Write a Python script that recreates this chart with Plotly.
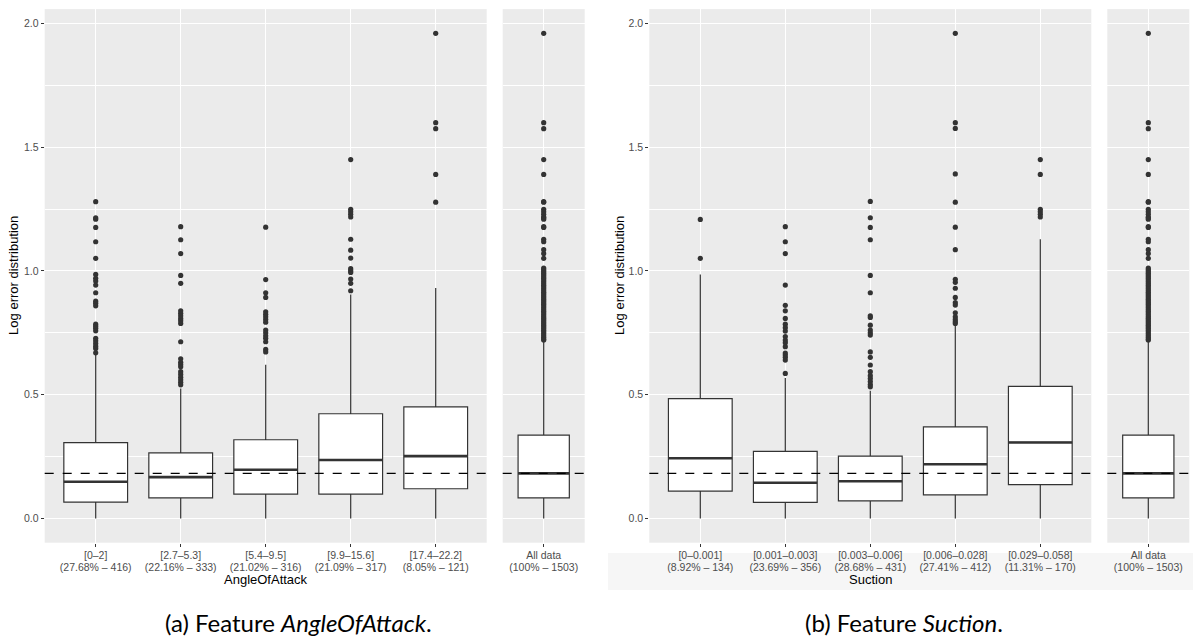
import plotly.graph_objects as go

W, H = 1193, 639

# ---------------- data ----------------
y_tickvals = [0.0, 0.5, 1.0, 1.5, 2.0]
y_ticktext = ["0.0", "0.5", "1.0", "1.5", "2.0"]
y_minor = [0.25, 0.75, 1.25, 1.75]
y_range = [-0.098, 2.058]
overall_median = 0.182

aoa_ranges = ["[0–2]", "[2.7–5.3]", "[5.4–9.5]", "[9.9–15.6]", "[17.4–22.2]"]
aoa_counts = ["(27.68% – 416)", "(22.16% – 333)", "(21.02% – 316)", "(21.09% – 317)",
              "(8.05% – 121)"]
aoa_q1 = [0.066, 0.083, 0.098, 0.098, 0.120]
aoa_median = [0.148, 0.167, 0.197, 0.236, 0.252]
aoa_q3 = [0.306, 0.265, 0.318, 0.423, 0.451]
aoa_lower = [0.0, 0.0, 0.0, 0.0, 0.0]
aoa_upper = [0.660, 0.525, 0.621, 0.905, 0.931]
aoa_out_1 = [1.280, 1.215, 1.209, 1.176, 1.118, 1.051, 0.986, 0.970, 0.959, 0.943,
             0.912, 0.878, 0.869, 0.859, 0.785, 0.777, 0.768, 0.758, 0.728, 0.718,
             0.707, 0.696, 0.687, 0.669]
aoa_out_2 = [1.179, 1.126, 1.070, 0.982, 0.950, 0.839, 0.829, 0.819, 0.808, 0.799,
             0.788, 0.714, 0.645, 0.631, 0.622, 0.613, 0.593, 0.582, 0.570, 0.560,
             0.550, 0.540]
aoa_out_3 = [1.177, 0.965, 0.912, 0.893, 0.835, 0.825, 0.815, 0.804, 0.793, 0.761,
             0.750, 0.738, 0.728, 0.714, 0.683, 0.673]
aoa_out_4 = [1.450, 1.249, 1.239, 1.229, 1.218, 1.128, 1.084, 1.052, 1.009, 1.001,
             0.994, 0.967, 0.950, 0.920]
aoa_out_5 = [1.960, 1.599, 1.575, 1.390, 1.278]
aoa_outliers = [aoa_out_1, aoa_out_2, aoa_out_3, aoa_out_4, aoa_out_5]

suc_ranges = ["[0–0.001]", "[0.001–0.003]", "[0.003–0.006]", "[0.006–0.028]",
              "[0.029–0.058]"]
suc_counts = ["(8.92% – 134)", "(23.69% – 356)", "(28.68% – 431)", "(27.41% – 412)",
              "(11.31% – 170)"]
suc_q1 = [0.110, 0.065, 0.071, 0.095, 0.137]
suc_median = [0.243, 0.144, 0.150, 0.219, 0.307]
suc_q3 = [0.484, 0.271, 0.252, 0.370, 0.534]
suc_lower = [0.0, 0.0, 0.0, 0.0, 0.0]
suc_upper = [0.986, 0.567, 0.516, 0.779, 1.128]
suc_out_1 = [1.208, 1.051]
suc_out_2 = [1.179, 1.118, 1.070, 0.943, 0.861, 0.839, 0.808, 0.785, 0.771, 0.757,
             0.735, 0.721, 0.710, 0.694, 0.668, 0.660, 0.651, 0.640, 0.586]
suc_out_3 = [1.281, 1.215, 1.176, 1.126, 0.982, 0.912, 0.819, 0.812, 0.781, 0.761,
             0.750, 0.741, 0.673, 0.651, 0.620, 0.593, 0.577, 0.565, 0.553, 0.541,
             0.532]
suc_out_4 = [1.960, 1.599, 1.576, 1.392, 1.278, 1.177, 1.086, 0.966, 0.954, 0.930,
             0.893, 0.872, 0.862, 0.831, 0.815, 0.804, 0.795, 0.788]
suc_out_5 = [1.450, 1.390, 1.249, 1.239, 1.229, 1.218]
suc_outliers = [suc_out_1, suc_out_2, suc_out_3, suc_out_4, suc_out_5]

all_ranges = ["All data"]
all_counts = ["(100% – 1503)"]
all_q1 = [0.083]
all_median = [0.182]
all_q3 = [0.337]
all_lower = [0.0]
all_upper = [0.716]
all_out = [1.960, 1.599, 1.575, 1.450, 1.390, 1.280, 1.278, 1.249, 1.239, 1.229,
           1.218, 1.215, 1.209, 1.179, 1.176, 1.128, 1.118, 1.086, 1.070, 1.051,
           1.012, 1.005, 0.998, 0.991, 0.984, 0.977, 0.970, 0.963, 0.956, 0.949,
           0.942, 0.935, 0.928, 0.921, 0.914, 0.907, 0.900, 0.893, 0.886, 0.879,
           0.872, 0.865, 0.858, 0.851, 0.844, 0.837, 0.830, 0.823, 0.816, 0.809,
           0.802, 0.795, 0.788, 0.781, 0.774, 0.767, 0.760, 0.753, 0.746, 0.739,
           0.732, 0.725, 0.721]

x_titles = ["AngleOfAttack", "Suction"]
y_title = "Log error distribution"
captions = ["(a) Feature <i>AngleOfAttack</i>.", "(b) Feature <i>Suction</i>."]

# ---------------- style / layout constants ----------------
BOX_W = 0.75
INK = "#333333"
TICK_GRAY = "#4D4D4D"
SANS = "Liberation Sans, Arial, Helvetica, sans-serif"
TICK_FONT = dict(family=SANS, size=10.5, color=TICK_GRAY)
TITLE_FONT = dict(family=SANS, size=13, color="black")
CAP_FONT = dict(family="Lato, Open Sans, sans-serif", size=24, color="black")
LINE2_STANDOFF = 17

def px_x(p):
    return p / W

PANEL_TOP, PANEL_BOT = 9.1, 542.7
y_dom = [(H - PANEL_BOT) / H, (H - PANEL_TOP) / H]
charts = [
    dict(main=(44.7, 486.7), side=(502.7, 584.7), ytitle_x=14.0, caption_x=298),
    dict(main=(649.3, 1091.3), side=(1107.3, 1189.3), ytitle_x=620.0, caption_x=904),
]

fig = go.Figure()
layout = dict(width=W, height=H, margin=dict(l=0, r=0, t=0, b=0), autosize=False,
              paper_bgcolor="white", plot_bgcolor="#EBEBEB", showlegend=False,
              shapes=[], annotations=[])

kx = lambda n: "xaxis" if n == 1 else f"xaxis{n}"
ky = lambda n: "yaxis" if n == 1 else f"yaxis{n}"
rx = lambda n: "x" if n == 1 else f"x{n}"
ry = lambda n: "y" if n == 1 else f"y{n}"


def add_boxes(xa, ya, q1, med, q3, lo, up, outs):
    xref, yref = rx(xa), ry(ya)
    for i in range(len(q1)):
        pos = i + 1
        fig.add_trace(go.Box(x=[pos], q1=[q1[i]], median=[med[i]], q3=[q3[i]],
                             lowerfence=[lo[i]], upperfence=[up[i]],
                             width=BOX_W, whiskerwidth=0, boxpoints=False,
                             fillcolor="white", line=dict(color=INK, width=1.2),
                             xaxis=xref, yaxis=yref, hoverinfo="skip"))
        fig.add_trace(go.Scatter(x=[pos - BOX_W / 2, pos + BOX_W / 2], y=[med[i], med[i]],
                                 mode="lines", line=dict(color=INK, width=2.6),
                                 xaxis=xref, yaxis=yref, hoverinfo="skip"))
        fig.add_trace(go.Scatter(x=[pos] * len(outs[i]), y=outs[i], mode="markers",
                                 marker=dict(color=INK, size=5.2),
                                 xaxis=xref, yaxis=yref, hoverinfo="skip"))


def axis_common():
    return dict(showline=False, zeroline=False, showgrid=True, gridcolor="white",
                gridwidth=1.1, ticks="outside", ticklen=3, tickwidth=1, tickcolor=INK,
                tickfont=TICK_FONT, fixedrange=True)


datasets = [
    (aoa_ranges, aoa_counts, aoa_q1, aoa_median, aoa_q3, aoa_lower, aoa_upper, aoa_outliers),
    (suc_ranges, suc_counts, suc_q1, suc_median, suc_q3, suc_lower, suc_upper, suc_outliers),
]

for c, (chart, data) in enumerate(zip(charts, datasets)):
    ranges, counts, q1, med, q3, lo, up, outs = data
    xm, xs = 2 * c + 1, 2 * c + 2
    ym, ys = 2 * c + 1, 2 * c + 2
    xm2, xs2 = 5 + 2 * c, 6 + 2 * c   # overlay axes for the second label line

    for (xn, yn, dom, rng, tv, l1, l2, xn2) in (
            (xm, ym, chart["main"], [0.4, len(ranges) + 0.6],
             list(range(1, len(ranges) + 1)), ranges, counts, xm2),
            (xs, ys, chart["side"], [0.4, 1.6], [1], all_ranges, all_counts, xs2)):
        ax = axis_common()
        ax.update(domain=[px_x(dom[0]), px_x(dom[1])], range=rng, tickmode="array",
                  tickvals=tv, ticktext=l1, anchor=ry(yn))
        layout[kx(xn)] = ax
        layout[kx(xn2)] = dict(domain=[px_x(dom[0]), px_x(dom[1])], range=rng,
                               overlaying=rx(xn), anchor=ry(yn), side="bottom",
                               tickmode="array", tickvals=tv, ticktext=l2,
                               showgrid=False, zeroline=False, showline=False, ticks="",
                               tickfont=TICK_FONT, ticklabelstandoff=LINE2_STANDOFF,
                               fixedrange=True)
        # invisible carrier so the overlay axis is drawn
        fig.add_trace(go.Scatter(x=tv, y=[overall_median] * len(tv), mode="markers",
                                 marker=dict(opacity=0, size=1), xaxis=rx(xn2),
                                 yaxis=ry(yn), hoverinfo="skip"))

    ay = axis_common()
    ay.update(domain=y_dom, range=y_range, tickmode="array", tickvals=y_tickvals,
              ticktext=y_ticktext, anchor=rx(xm),
              minor=dict(tickvals=y_minor, showgrid=True, gridcolor="white",
                         gridwidth=0.55, ticks=""))
    layout[ky(ym)] = ay
    ay2 = axis_common()
    ay2.update(domain=y_dom, range=y_range, tickmode="array", tickvals=y_tickvals,
               showticklabels=False, ticks="", anchor=rx(xs),
               minor=dict(tickvals=y_minor, showgrid=True, gridcolor="white",
                          gridwidth=0.55, ticks=""))
    layout[ky(ys)] = ay2

    add_boxes(xm, ym, q1, med, q3, lo, up, outs)
    add_boxes(xs, ys, all_q1, all_median, all_q3, all_lower, all_upper, [all_out])

    for xn, yn in ((xm, ym), (xs, ys)):
        layout["shapes"].append(dict(type="line", xref=f"{rx(xn)} domain", yref=ry(yn),
                                     x0=0, x1=1, y0=overall_median, y1=overall_median,
                                     line=dict(color="black", width=1.1, dash="dash"),
                                     layer="above"))

    # axis titles
    layout["annotations"].append(dict(text=x_titles[c], xref="paper", yref="paper",
                                      x=px_x((chart["main"][0] + chart["main"][1]) / 2),
                                      y=(H - 579) / H, showarrow=False,
                                      xanchor="center", yanchor="middle", font=TITLE_FONT))
    layout["annotations"].append(dict(text=y_title, xref="paper", yref="paper",
                                      x=px_x(chart["ytitle_x"]),
                                      y=(H - (PANEL_TOP + PANEL_BOT) / 2) / H,
                                      textangle=-90, showarrow=False,
                                      xanchor="center", yanchor="middle", font=TITLE_FONT))
    # caption
    layout["annotations"].append(dict(text=captions[c], xref="paper", yref="paper",
                                      x=px_x(chart["caption_x"]), y=(H - 622) / H,
                                      showarrow=False, xanchor="center", yanchor="middle",
                                      font=CAP_FONT))

# light band behind the right chart's x labels
layout["shapes"].append(dict(type="rect", xref="paper", yref="paper",
                             x0=px_x(608), x1=1, y0=(H - 590) / H, y1=(H - 553) / H,
                             fillcolor="#F6F6F6", line=dict(width=0), layer="below"))

fig.update_layout(**layout)
fig.write_html("out.html")
